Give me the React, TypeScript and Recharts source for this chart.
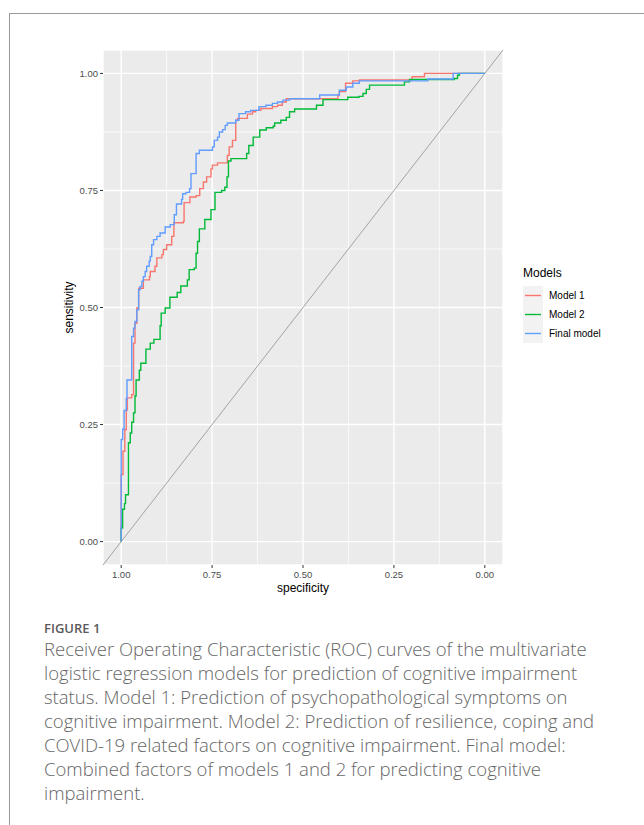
import React from 'react';
import { LineChart, Line, XAxis, YAxis, CartesianGrid, ReferenceLine } from 'recharts';

// [specificity, sensitivity] corner points of each ROC step curve
const model1: number[][] = [
  [1, 0], [1, 0.143], [0.995, 0.193], [0.99, 0.239], [0.986, 0.281], [0.983, 0.307], [0.971, 0.314],
  [0.966, 0.424], [0.962, 0.466], [0.957, 0.499], [0.952, 0.541], [0.939, 0.559], [0.922, 0.566],
  [0.92, 0.577], [0.907, 0.588], [0.902, 0.606], [0.888, 0.613], [0.884, 0.624], [0.875, 0.634],
  [0.861, 0.652], [0.855, 0.681], [0.829, 0.684], [0.827, 0.724], [0.811, 0.736], [0.794, 0.739],
  [0.784, 0.754], [0.774, 0.768], [0.765, 0.779], [0.753, 0.796], [0.749, 0.804], [0.735, 0.809],
  [0.708, 0.825], [0.703, 0.843], [0.694, 0.857], [0.685, 0.9], [0.68, 0.904], [0.653, 0.913],
  [0.639, 0.918], [0.63, 0.921], [0.616, 0.925], [0.584, 0.929], [0.57, 0.932], [0.557, 0.939],
  [0.546, 0.946], [0.404, 0.954], [0.4, 0.961], [0.383, 0.979], [0.363, 0.984], [0.345, 0.986],
  [0.2, 0.993], [0.166, 1.0], [0, 1.0],
];

const model2: number[][] = [
  [1, 0], [1, 0.029], [0.996, 0.069], [0.991, 0.081], [0.988, 0.1], [0.98, 0.211], [0.975, 0.232],
  [0.971, 0.255], [0.966, 0.275], [0.962, 0.311], [0.959, 0.345], [0.95, 0.366], [0.946, 0.381],
  [0.932, 0.411], [0.92, 0.424], [0.91, 0.432], [0.893, 0.461], [0.89, 0.488], [0.879, 0.499],
  [0.866, 0.522], [0.846, 0.532], [0.836, 0.546], [0.818, 0.559], [0.813, 0.581], [0.799, 0.584],
  [0.794, 0.616], [0.79, 0.641], [0.785, 0.668], [0.77, 0.688], [0.753, 0.709], [0.742, 0.746],
  [0.724, 0.75], [0.715, 0.757], [0.709, 0.779], [0.705, 0.813], [0.698, 0.818], [0.655, 0.829],
  [0.649, 0.846], [0.637, 0.864], [0.619, 0.879], [0.601, 0.884], [0.582, 0.887], [0.578, 0.894],
  [0.561, 0.9], [0.546, 0.906], [0.537, 0.918], [0.523, 0.924], [0.463, 0.932], [0.445, 0.944],
  [0.377, 0.949], [0.346, 0.951], [0.335, 0.957], [0.326, 0.966], [0.317, 0.975], [0.221, 0.982],
  [0.207, 0.987], [0.084, 0.989], [0.075, 0.996], [0.07, 1.0], [0, 1.0],
];

const finalModel: number[][] = [
  [1, 0], [1, 0.218], [0.996, 0.24], [0.992, 0.28], [0.986, 0.305], [0.984, 0.345], [0.971, 0.438],
  [0.966, 0.456], [0.962, 0.47], [0.957, 0.495], [0.952, 0.538], [0.948, 0.545], [0.943, 0.556],
  [0.939, 0.566], [0.934, 0.577], [0.93, 0.588], [0.923, 0.599], [0.92, 0.609], [0.916, 0.634],
  [0.911, 0.645], [0.902, 0.652], [0.893, 0.659], [0.879, 0.672], [0.865, 0.677], [0.854, 0.698],
  [0.848, 0.721], [0.834, 0.731], [0.831, 0.743], [0.822, 0.746], [0.812, 0.754], [0.808, 0.786],
  [0.794, 0.829], [0.785, 0.836], [0.749, 0.843], [0.744, 0.857], [0.735, 0.864], [0.73, 0.875],
  [0.721, 0.88], [0.714, 0.889], [0.708, 0.894], [0.685, 0.9], [0.676, 0.914], [0.658, 0.918],
  [0.644, 0.921], [0.621, 0.929], [0.602, 0.932], [0.584, 0.936], [0.57, 0.939], [0.555, 0.943],
  [0.537, 0.946], [0.454, 0.954], [0.4, 0.964], [0.381, 0.971], [0.363, 0.979], [0.345, 0.984],
  [0.157, 0.988], [0.087, 1.0], [0, 1.0],
];

const seriesNames = ['Model 1', 'Model 2', 'Final model'];
const seriesColors = ['#F8766D', '#00BA38', '#619CFF'];
const seriesData = [model1, model2, finalModel];

const majorBreaks = [0, 0.25, 0.5, 0.75, 1];
const minorBreaks = [0.125, 0.375, 0.625, 0.875];
const axisDomain: [number, number] = [-0.05, 1.05];

const captionTitle = 'FIGURE 1';
const captionLines = [
  'Receiver Operating Characteristic (ROC) curves of the multivariate',
  'logistic regression models for prediction of cognitive impairment',
  'status. Model 1: Prediction of psychopathological symptoms on',
  'cognitive impairment. Model 2: Prediction of resilience, coping and',
  'COVID-19 related factors on cognitive impairment. Final model:',
  'Combined factors of models 1 and 2 for predicting cognitive',
  'impairment.',
];

const FONT = '"Liberation Sans", Arial, sans-serif';

const toRows = (pts: number[][]) => pts.map(([spec, sens]) => ({ spec, sens }));

export default function App() {
  return (
    <div style={{ position: 'absolute', left: 0, top: 0, width: 644, height: 825, background: '#fff', overflow: 'hidden' }}>
      <div style={{ position: 'absolute', left: 9, top: 13, width: 640, height: 820, borderTop: '1px solid #9a9a9a', borderLeft: '1px solid #9a9a9a' }} />
      <div style={{ position: 'absolute', left: 0, top: 0 }}>
        <LineChart width={644} height={600} margin={{ top: 50, right: 141, bottom: 5, left: 0 }}>
          <CartesianGrid fill="#EBEBEB" stroke="#FFFFFF" strokeWidth={1.4} />
          <XAxis
            type="number"
            dataKey="spec"
            domain={axisDomain}
            reversed
            allowDataOverflow
            ticks={majorBreaks}
            tickFormatter={(v: number) => v.toFixed(2)}
            axisLine={false}
            tickSize={3}
            tickMargin={3}
            height={30}
            tickLine={{ stroke: '#333333' }}
            tick={{ fontSize: 9.5, fill: '#4D4D4D', fontFamily: FONT }}
            label={(p: any) => {
              const vb = p.viewBox;
              return (
                <text x={vb.x + vb.width / 2} y={vb.y + 27} textAnchor="middle" fontSize={12} fontFamily={FONT} fill="#000">
                  specificity
                </text>
              );
            }}
          />
          <YAxis
            type="number"
            domain={axisDomain}
            allowDataOverflow
            ticks={majorBreaks}
            tickFormatter={(v: number) => v.toFixed(2)}
            axisLine={false}
            tickSize={3}
            tickMargin={2}
            width={103}
            tickLine={{ stroke: '#333333' }}
            tick={{ fontSize: 9.5, fill: '#4D4D4D', fontFamily: FONT }}
            label={(p: any) => {
              const vb = p.viewBox;
              const cx = vb.x + 73;
              const cy = vb.y + vb.height / 2;
              return (
                <text x={cx} y={cy} transform={`rotate(-90, ${cx}, ${cy})`} textAnchor="middle" fontSize={12} fontFamily={FONT} fill="#000">
                  sensitivity
                </text>
              );
            }}
          />
          {minorBreaks.map((v) => (
            <ReferenceLine key={'mx' + v} x={v} stroke="#FFFFFF" strokeWidth={0.7} />
          ))}
          {minorBreaks.map((v) => (
            <ReferenceLine key={'my' + v} y={v} stroke="#FFFFFF" strokeWidth={0.7} />
          ))}
          <ReferenceLine
            segment={[{ x: axisDomain[1], y: axisDomain[0] }, { x: axisDomain[0], y: axisDomain[1] }]}
            stroke="#A3A3A3"
            strokeWidth={1}
            ifOverflow="visible"
          />
          {seriesData.map((pts, i) => (
            <Line
              key={seriesNames[i]}
              name={seriesNames[i]}
              data={toRows(pts)}
              dataKey="sens"
              type="stepAfter"
              stroke={seriesColors[i]}
              strokeWidth={1.4}
              dot={false}
              activeDot={false}
              isAnimationActive={false}
            />
          ))}
        </LineChart>
      </div>
      <div style={{ position: 'absolute', left: 523, top: 266, fontFamily: FONT }}>
        <div style={{ fontSize: 12, color: '#000', marginBottom: 6 }}>Models</div>
        {seriesNames.map((n, i) => (
          <div key={n} style={{ display: 'flex', alignItems: 'center', height: 19 }}>
            <svg width={20} height={19} style={{ display: 'block' }}>
              <rect x={0} y={0} width={20} height={19} fill="#F2F2F2" />
              <line x1={2} x2={18} y1={9.5} y2={9.5} stroke={seriesColors[i]} strokeWidth={1.4} />
            </svg>
            <span style={{ fontSize: 10, color: '#000', marginLeft: 6 }}>{n}</span>
          </div>
        ))}
      </div>
      <div style={{ position: 'absolute', left: 44, top: 619, fontFamily: '"Open Sans", "Noto Sans", sans-serif' }}>
        <div style={{ fontSize: 13, fontWeight: 600, color: '#5a5a5a', lineHeight: '18px', marginBottom: 0 }}>{captionTitle}</div>
        {captionLines.map((l) => (
          <div key={l} style={{ fontSize: 18.5, fontWeight: 300, color: '#666', lineHeight: '24px', whiteSpace: 'nowrap' }}>{l}</div>
        ))}
      </div>
    </div>
  );
}
